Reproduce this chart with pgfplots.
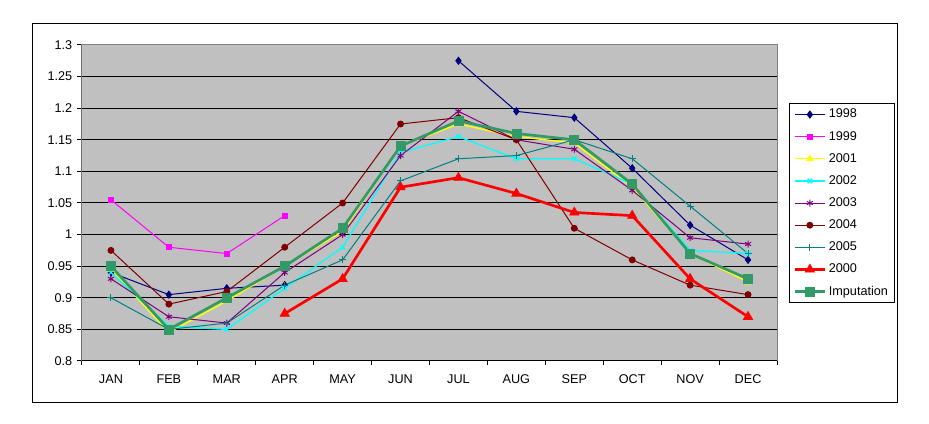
\documentclass[border=0pt]{standalone}
\usepackage{pgfplots}
\pgfplotsset{compat=1.18}
\usepackage{pgfplotstable}
\usepackage{fontspec}
\setmainfont{Liberation Sans}
\definecolor{plotgray}{RGB}{192,192,192}
\definecolor{bordergray}{RGB}{128,128,128}
\definecolor{c98}{RGB}{0,0,128}
\definecolor{c99}{RGB}{255,0,255}
\definecolor{c01}{RGB}{255,255,0}
\definecolor{c02}{RGB}{0,255,255}
\definecolor{c03}{RGB}{128,0,128}
\definecolor{c04}{RGB}{128,0,0}
\definecolor{c05}{RGB}{0,128,128}
\definecolor{c00}{RGB}{255,0,0}
\definecolor{cimp}{RGB}{51,153,102}
\pgfplotstableread{
m y1998 y1999 y2001 y2002 y2003 y2004 y2005 y2000 imp
1 0.94 1.055 0.945 0.94 0.93 0.975 0.90 nan 0.95
2 0.905 0.98 0.845 0.855 0.87 0.89 0.85 nan 0.85
3 0.915 0.97 0.895 0.85 0.86 0.91 0.86 nan 0.90
4 0.92 1.03 0.95 0.915 0.94 0.98 0.92 0.875 0.95
5 nan nan 1.005 0.98 1.0 1.05 0.96 0.93 1.01
6 nan nan 1.14 1.13 1.125 1.175 1.085 1.075 1.14
7 1.275 nan 1.175 1.155 1.195 1.185 1.12 1.09 1.18
8 1.195 nan 1.155 1.12 1.15 1.15 1.125 1.065 1.16
9 1.185 nan 1.145 1.12 1.135 1.01 1.15 1.035 1.15
10 1.105 nan 1.075 1.08 1.07 0.96 1.12 1.03 1.08
11 1.015 nan 0.97 0.975 0.995 0.92 1.045 0.93 0.97
12 0.96 nan 0.925 0.97 0.985 0.905 0.97 0.87 0.93
}\datatable
\begin{document}
\begin{tikzpicture}[x=0.75pt,y=0.75pt]
\fill[white] (-82,-63) rectangle (847,361);
\useasboundingbox (-82,-63) rectangle (847,361);
\draw[black, line width=0.75pt] (-49,-42) rectangle (815,337);
\begin{axis}[
  at={(0,0)}, anchor=south west, scale only axis,
  width=521.25pt, height=237pt,
  xmin=0.5, xmax=12.5, ymin=0.8, ymax=1.3,
  xtick={1,...,12},
  xticklabels={JAN,FEB,MAR,APR,MAY,JUN,JUL,AUG,SEP,OCT,NOV,DEC},
  minor xtick={0.5,1.5,...,12.5},
  ytick={0.8,0.85,0.9,0.95,1,1.05,1.1,1.15,1.2,1.25,1.3},
  yticklabels={0.8,0.85,0.9,0.95,1,1.05,1.1,1.15,1.2,1.25,1.3},
  tick align=outside, tick pos=left,
  major tick length=3.75pt, minor tick length=3pt,
  major x tick style={draw=none},
  minor x tick style={black, line width=0.75pt},
  major y tick style={black, line width=0.75pt},
  ymajorgrids, major grid style={black, line width=0.75pt},
  axis background/.style={fill=plotgray},
  axis line style={draw=bordergray, line width=0.75pt},
  tick label style={font=\fontsize{9.5}{11}\selectfont},
  xticklabel style={yshift=-3pt},
  unbounded coords=jump,
  legend cell align=left,
  legend image code/.code={\draw[mark repeat=2,mark phase=2,#1] plot coordinates {(0pt,0pt) (11.25pt,0pt) (22.5pt,0pt)};},
  legend style={at={(axis description cs:1.0173,0.8165)}, anchor=north west,
    draw=black, fill=white, line width=0.75pt,
    font=\fontsize{9.5}{11}\selectfont,
    inner xsep=3pt, inner ysep=0pt, row sep=0pt,
    nodes={inner ysep=0pt, minimum height=16.6pt}},
]
\addplot[c98, line width=0.75pt, mark=diamond*, mark size=2.6pt] table[x=m,y=y1998]{\datatable};
\addlegendentry{1998}
\addplot[c99, line width=0.75pt, mark=square*, mark size=1.9pt] table[x=m,y=y1999]{\datatable};
\addlegendentry{1999}
\addplot[c01, line width=1pt, mark=triangle*, mark size=2.4pt] table[x=m,y=y2001]{\datatable};
\addlegendentry{2001}
\addplot[c02, line width=1pt, mark=x, mark size=2.4pt] table[x=m,y=y2002]{\datatable};
\addlegendentry{2002}
\addplot[c03, line width=0.75pt, mark=asterisk, mark size=2.6pt] table[x=m,y=y2003]{\datatable};
\addlegendentry{2003}
\addplot[c04, line width=0.75pt, mark=*, mark size=2.2pt] table[x=m,y=y2004]{\datatable};
\addlegendentry{2004}
\addplot[c05, line width=0.75pt, mark=+, mark size=2.6pt] table[x=m,y=y2005]{\datatable};
\addlegendentry{2005}
\addplot[c00, line width=2pt, mark=triangle*, mark size=4pt, mark options={line width=0.5pt}] table[x=m,y=y2000]{\datatable};
\addlegendentry{2000}
\addplot[cimp, line width=2pt, mark=square*, mark size=3.4pt, mark options={line width=0.5pt}] table[x=m,y=imp]{\datatable};
\addlegendentry{Imputation}
\draw[black, line width=0.75pt] (rel axis cs:0,1) -- (rel axis cs:0,0) -- (rel axis cs:1,0);
\end{axis}
\end{tikzpicture}
\end{document}
